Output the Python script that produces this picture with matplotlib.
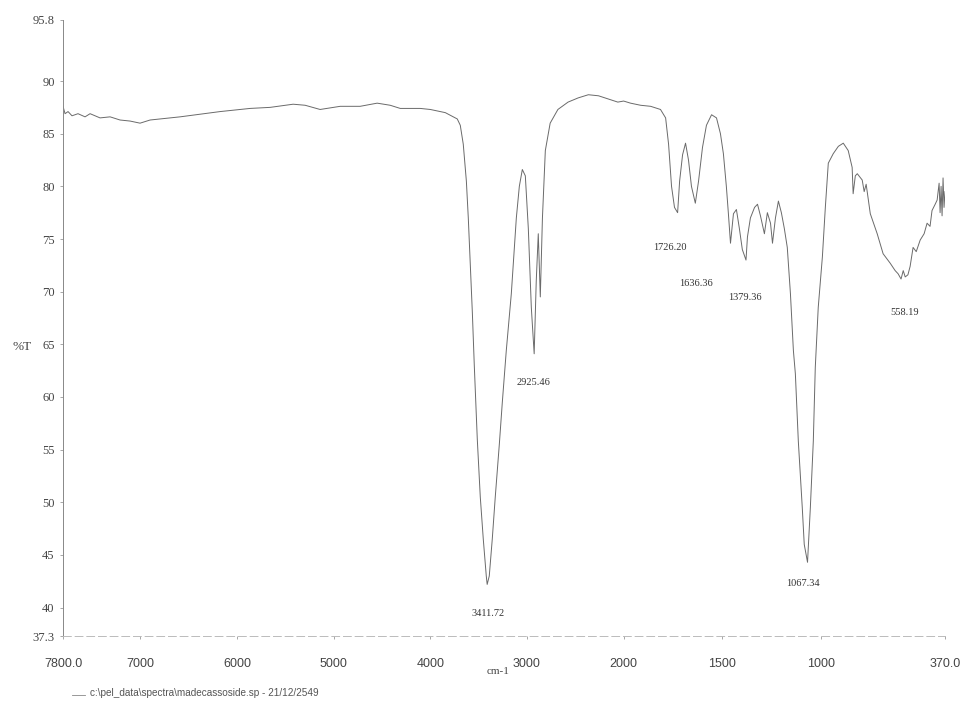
import numpy as np
import matplotlib
matplotlib.use("Agg")
import matplotlib.pyplot as plt

# IR spectrum, %T against wavenumber (cm-1)
wavenumber = [
    7800, 7779, 7748, 7707, 7645, 7572, 7520, 7417, 7313, 7210, 7106, 7003,
    6899, 6589, 6175, 5864, 5657, 5419, 5295, 5140, 4932, 4726, 4550, 4415,
    4311, 4104, 4000, 3845, 3721, 3690,
    3659, 3627, 3607, 3586, 3565, 3545, 3514, 3483, 3452, 3421, 3411.72, 3390,
    3359, 3328, 3286, 3255, 3214, 3162, 3110, 3079, 3048, 3017, 2986, 2955,
    2925.46, 2904, 2883, 2862, 2840, 2810, 2760, 2680, 2575, 2470, 2365, 2260,
    2160, 2060, 2000,
    1965, 1914, 1863, 1813, 1787, 1772, 1757, 1742, 1726.20, 1716, 1701, 1686,
    1671, 1656, 1636.36, 1620, 1600, 1580, 1554, 1529, 1509, 1494, 1479, 1469,
    1458, 1443, 1428, 1413, 1398, 1379.36, 1372, 1357, 1336, 1321, 1306, 1286,
    1271, 1255, 1245, 1230, 1215, 1200, 1185, 1170, 1154, 1139, 1129, 1114,
    1094, 1084, 1067.34, 1053, 1038, 1028, 1013, 992, 977, 962, 937, 911,
    886, 861, 841, 836, 825, 815, 790, 780, 770, 749, 714, 684,
    648, 623, 608, 593, 582, 572, 558.19, 547, 532, 516, 496, 476,
    461, 446, 436, 420, 410, 400, 395, 390, 385, 380, 375, 370,
]
transmittance = [
    87.6, 86.9, 87.1, 86.7, 86.9, 86.6, 86.9, 86.5, 86.6, 86.3, 86.2, 86.0,
    86.3, 86.6, 87.1, 87.4, 87.5, 87.8, 87.7, 87.3, 87.6, 87.6, 87.9, 87.7,
    87.4, 87.4, 87.3, 87.0, 86.4, 85.8,
    84.0, 80.5, 77.0, 72.5, 68.0, 63.0, 56.0, 50.5, 46.5, 43.0, 42.2, 43.0,
    46.5, 50.5, 55.5, 59.5, 64.4, 69.8, 77.0, 80.0, 81.6, 81.0, 76.0, 68.5,
    64.1, 71.0, 75.5, 69.5, 77.0, 83.4, 86.0, 87.3, 88.0, 88.4, 88.7, 88.6,
    88.3, 88.0, 88.1,
    87.9, 87.7, 87.6, 87.3, 86.5, 84.0, 80.0, 78.0, 77.5, 80.5, 83.0, 84.1,
    82.5, 80.0, 78.4, 80.5, 83.7, 85.8, 86.8, 86.5, 85.0, 83.1, 80.0, 77.5,
    74.6, 77.4, 77.8, 76.0, 74.0, 73.0, 75.2, 77.0, 78.0, 78.3, 77.2, 75.5,
    77.5, 76.5, 74.6, 77.0, 78.6, 77.5, 76.0, 74.2, 69.8, 64.4, 62.2, 55.8,
    49.5, 46.0, 44.3, 49.5, 55.8, 62.8, 68.5, 73.3, 78.0, 82.2, 83.1, 83.8,
    84.1, 83.4, 81.8, 79.3, 81.0, 81.2, 80.6, 79.5, 80.2, 77.4, 75.5, 73.6,
    72.7, 72.0, 71.7, 71.2, 72.0, 71.4, 71.6, 72.4, 74.2, 73.8, 74.9, 75.5,
    76.5, 76.2, 77.7, 78.3, 78.7, 80.3, 77.5, 80.0, 77.2, 80.8, 78.0, 79.5,
]

# peak labels and where they are written
peak_text = ["3411.72", "2925.46", "1726.20", "1636.36", "1379.36", "1067.34", "558.19"]
peak_label_x = [3400, 2930, 1765, 1632, 1385, 1088, 576]
peak_label_y = [39.4, 61.4, 74.2, 70.8, 69.4, 42.3, 68.0]

xticks = [7800, 7000, 6000, 5000, 4000, 3000, 2000, 1500, 1000, 370]
xtick_labels = ["7800.0", "7000", "6000", "5000", "4000", "3000", "2000", "1500", "1000", "370.0"]
yticks = [37.3, 40, 45, 50, 55, 60, 65, 70, 75, 80, 85, 90, 95.8]
ytick_labels = ["37.3", "40", "45", "50", "55", "60", "65", "70", "75", "80", "85", "90", "95.8"]

K = 2.04  # below 2000 cm-1 the printout stretches the scale


def fwd(x):
    x = np.asarray(x, dtype=float)
    return np.where(x >= 2000, x, 2000 - K * (2000 - x))


def inv(u):
    u = np.asarray(u, dtype=float)
    return np.where(u >= 2000, u, 2000 - (2000 - u) / K)


fig = plt.figure(figsize=(9.65, 7.03), dpi=100)
ax = fig.add_axes([0.0653, 0.0953, 0.9140, 0.8763])
ax.set_xscale("function", functions=(fwd, inv))

ax.plot(wavenumber, transmittance, color="#6a6a6a", lw=0.7)

ax.set_xlim(7800, 370)
ax.set_ylim(37.3, 95.8)

ax.set_xticks(xticks)
ax.set_xticklabels(xtick_labels, family="Liberation Sans", fontsize=9, color="#444444")
ax.set_yticks(yticks)
ax.set_yticklabels(ytick_labels, family="Liberation Serif", fontsize=9, color="#444444")
ax.minorticks_off()
ax.tick_params(axis="x", length=2, width=0.6, color="#999999", pad=14)
ax.tick_params(axis="y", length=2, width=0.6, color="#999999", pad=4)

for s in ["top", "right"]:
    ax.spines[s].set_visible(False)
ax.spines["left"].set_color("#888888")
ax.spines["left"].set_linewidth(0.7)
ax.spines["bottom"].set_color("#bbbbbb")
ax.spines["bottom"].set_linewidth(0.7)
ax.spines["bottom"].set_linestyle((0, (8, 4)))

for t, px, py in zip(peak_text, peak_label_x, peak_label_y):
    ax.text(px, py, t, ha="center", va="center", family="Liberation Serif",
            fontsize=7.5, color="#333333")

fig.text(22 / 965, 1 - 347 / 703, "%T", ha="center", va="center",
         family="Liberation Serif", fontsize=9.5, color="#444444")
fig.text(487 / 965, 1 - 672 / 703, "cm-1", ha="left", va="center",
         family="Liberation Serif", fontsize=8, color="#444444")

# footer with the file name, with a short legend line in front
fig.add_artist(plt.Line2D([72 / 965, 85 / 965], [1 - 695 / 703, 1 - 695 / 703],
                          color="#888888", lw=0.6))
fig.text(90 / 965, 1 - 693 / 703,
         "c:\\pel_data\\spectra\\madecassoside.sp - 21/12/2549",
         ha="left", va="center", family="Liberation Sans", fontsize=7.2, color="#555555")

fig.savefig("out.png", dpi=100)
